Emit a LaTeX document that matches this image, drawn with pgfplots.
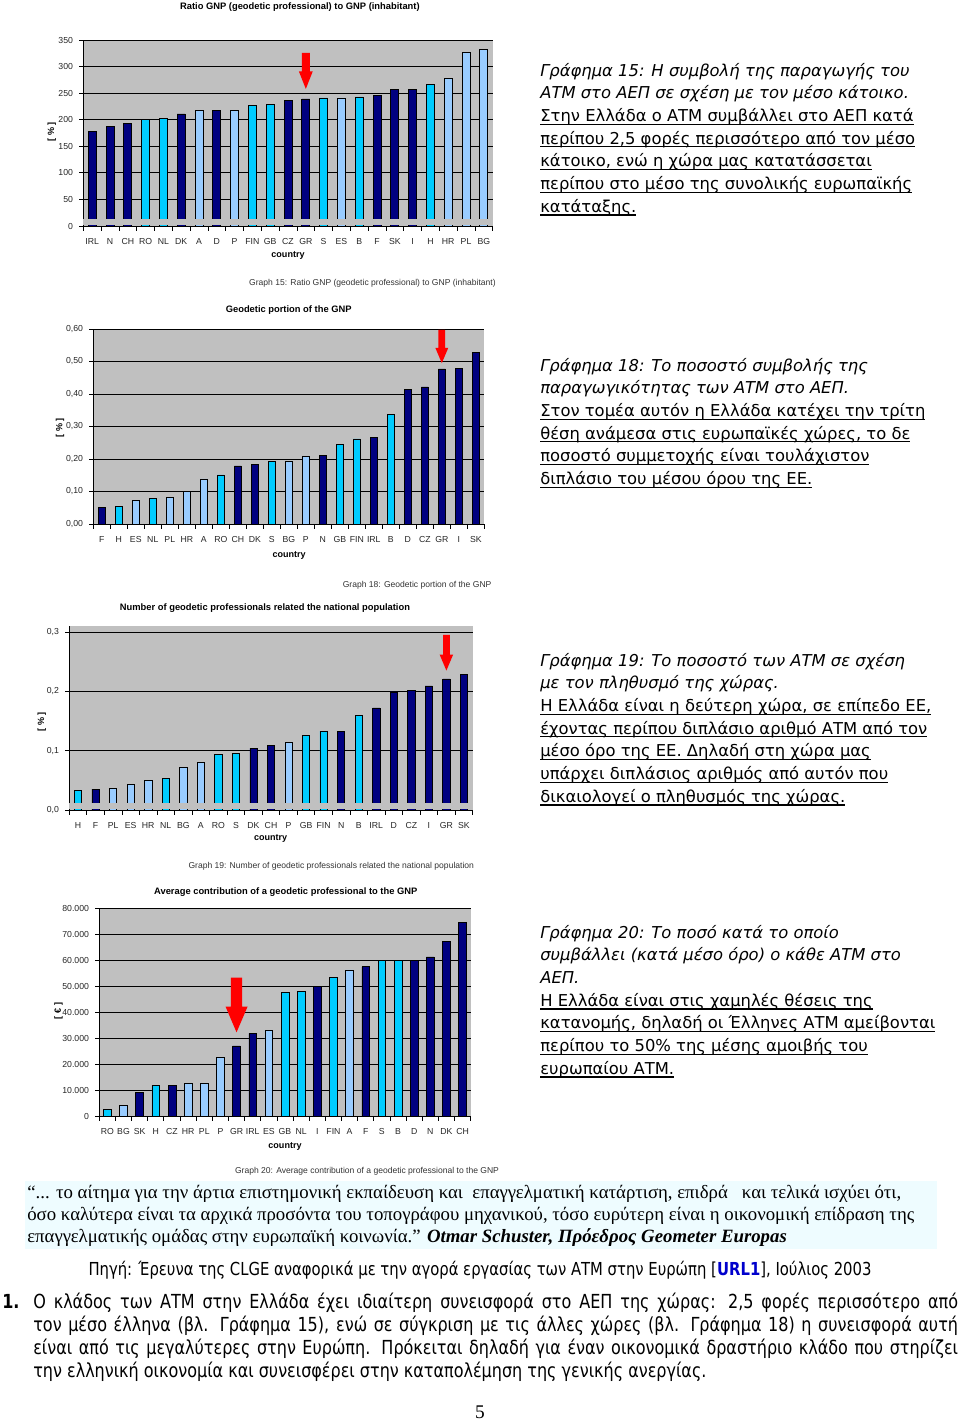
\documentclass[border=0pt]{standalone}
\usepackage{fontspec}
\setmainfont{DejaVu Sans}
\newfontfamily\arialf{Liberation Sans}
\newfontfamily\timesf{Liberation Serif}
\newfontfamily\tahomaf[FakeStretch=0.92]{DejaVu Sans Condensed}
\usepackage{pgfplots}
\pgfplotsset{compat=1.18}
\definecolor{navyb}{HTML}{000080}
\definecolor{cyanb}{HTML}{00CCFF}
\definecolor{lightb}{HTML}{99CCFF}
\definecolor{plotgray}{HTML}{C0C0C0}
\definecolor{arrowred}{HTML}{FF0000}
\definecolor{quotebg}{HTML}{EEFCFF}
\definecolor{urlblue}{HTML}{0000CC}
\newcommand\ul[1]{\setbox0=\hbox{#1}\rlap{\rule[-2.1pt]{\wd0}{0.7pt}}\box0}
\newcommand\redarrow[6]{%
  \fill[arrowred] ([xshift=-#5]axis cs:#1,#2) -- ([xshift=#5]axis cs:#1,#2) -- ([xshift=#5]axis cs:#1,#3) -- ([xshift=#6]axis cs:#1,#3) -- (axis cs:#1,#4) -- ([xshift=-#6]axis cs:#1,#3) -- ([xshift=-#5]axis cs:#1,#3) -- cycle;}
\pgfplotsset{
  gchart/.style={
    scale only axis, anchor=south west,
    xmin=-0.5, xmax=22.5,
    axis background/.style={fill=plotgray},
    axis x line*=bottom, axis y line*=left,
    axis line style={-, black, line width=0.6pt},
    ymajorgrids, grid style={black, line width=0.5pt},
    tick align=outside,
    xtick={0,...,22},
    minor xtick={-0.5,0.5,...,22.5},
    major x tick style={draw=none},
    minor x tick style={black, line width=0.5pt},
    minor tick length=3pt,
    major tick length=2.5pt,
    y tick style={black, line width=0.5pt},
    scaled y ticks=false,
    tick label style={font=\arialf\fontsize{5.4}{6}\selectfont, text=black!85},
    xticklabel style={anchor=center, yshift=-7pt},
    yticklabel style={anchor=east, inner sep=0pt, xshift=-3.7pt},
    title style={font=\arialf\bfseries\fontsize{5.8}{7}\selectfont, anchor=center, yshift=-6.5pt},
    xlabel style={font=\arialf\bfseries\fontsize{5.6}{7}\selectfont, anchor=center},
    ylabel style={font=\arialf\bfseries\fontsize{5.6}{7}\selectfont, anchor=center},
    xlabel=country,
    clip=false,
  },
  dbar/.style={ybar, bar shift=0pt, fill=navyb, draw=black, line width=0.4pt},
  cbar/.style={ybar, bar shift=0pt, fill=cyanb, draw=black, line width=0.4pt},
  lbar/.style={ybar, bar shift=0pt, fill=lightb, draw=black, line width=0.4pt},
}
\tikzset{capt/.style={anchor=east, inner sep=0pt, font=\arialf\fontsize{5.3}{6}\selectfont, text=black!80}}
\begin{document}
\begin{tikzpicture}[x=0.62pt, y=-0.62pt]
\path[use as bounding box] (0,0) rectangle (960,1422);

% ---------------- Chart 15
\begin{axis}[gchart, at={(51.65pt,-140.12pt)}, width=253.83pt, height=115.32pt,
  ymin=0, ymax=350, ytick={0,50,100,150,200,250,300,350},
  yticklabels={0,50,100,150,200,250,300,350},
  xticklabels={IRL,N,CH,RO,NL,DK,A,D,P,FIN,GB,CZ,GR,S,ES,B,F,SK,I,H,HR,PL,BG},
  title={Ratio GNP (geodetic professional) to GNP (inhabitant)},
  title style={at={(axis description cs:0.529,1.183)}},
  xlabel style={at={(axis description cs:0.5,-0.156)}},
  ylabel={[ \% ]}, ylabel style={at={(axis description cs:-0.077,0.507)}}]
\addplot[dbar, bar width=4.96pt] coordinates {(0,178) (1,188) (2,193) (5,211) (7,218) (11,237) (12,239) (16,246) (17,257) (18,257)};
\addplot[cbar, bar width=4.96pt] coordinates {(3,200) (4,202) (9,227) (10,229) (13,241) (15,243) (19,267)};
\addplot[lbar, bar width=4.96pt] coordinates {(6,218) (8,218) (14,241) (20,277) (21,326) (22,332)};
\fill[plotgray] ([yshift=0.4pt]axis cs:-0.5,0) rectangle (axis cs:22.5,12.6);
\redarrow{12}{326}{291}{258}{2.5pt}{4.3pt}
\node[capt] at (axis description cs:1.008,-0.308) {Graph 15: Ratio GNP (geodetic professional) to GNP (inhabitant)};
\end{axis}

% ---------------- Chart 18
\begin{axis}[gchart, at={(57.85pt,-324.88pt)}, width=242.42pt, height=120.9pt,
  ymin=0, ymax=0.6, ytick={0,0.1,0.2,0.3,0.4,0.5,0.6},
  yticklabels={{0,00},{0,10},{0,20},{0,30},{0,40},{0,50},{0,60}},
  xticklabels={F,H,ES,NL,PL,HR,A,RO,CH,DK,S,BG,P,N,GB,FIN,IRL,B,D,CZ,GR,I,SK},
  title={Geodetic portion of the GNP},
  title style={at={(axis description cs:0.4997,1.101)}},
  xlabel style={at={(axis description cs:0.501,-0.159)}},
  ylabel={[ \% ]}, ylabel style={at={(axis description cs:-0.0852,0.494)}}]
\addplot[dbar, bar width=4.4pt] coordinates {(0,0.051) (8,0.179) (9,0.183) (13,0.211) (16,0.267) (18,0.414) (19,0.422) (20,0.477) (21,0.479) (22,0.529)};
\addplot[cbar, bar width=4.4pt] coordinates {(1,0.054) (3,0.079) (7,0.151) (10,0.192) (14,0.245) (15,0.262) (17,0.338)};
\addplot[lbar, bar width=4.4pt] coordinates {(2,0.073) (4,0.081) (5,0.100) (6,0.139) (11,0.192) (12,0.208)};
\redarrow{20}{0.597}{0.542}{0.495}{2.1pt}{4pt}
\node[capt] at (axis description cs:1.019,-0.316) {Graph 18: Geodetic portion of the GNP};
\end{axis}

% ---------------- Chart 19
\begin{axis}[gchart, at={(42.97pt,-502.2pt)}, width=250.1pt, height=114.27pt,
  ymin=0, ymax=0.3106, ytick={0,0.1,0.2,0.3},
  yticklabels={{0,0},{0,1},{0,2},{0,3}},
  xticklabels={H,F,PL,ES,HR,NL,BG,A,RO,S,DK,CH,P,GB,FIN,N,B,IRL,D,CZ,I,GR,SK},
  title={Number of geodetic professionals related the national population},
  title style={at={(axis description cs:0.485,1.100)}},
  xlabel style={at={(axis description cs:0.499,-0.156)}},
  ylabel={[ \% ]}, ylabel style={at={(axis description cs:-0.0684,0.479)}}]
\addplot[dbar, bar width=4.5pt] coordinates {(1,0.035) (10,0.104) (11,0.109) (15,0.133) (17,0.172) (18,0.199) (19,0.201) (20,0.209) (21,0.221) (22,0.229)};
\addplot[cbar, bar width=4.5pt] coordinates {(0,0.033) (5,0.053) (8,0.094) (9,0.096) (13,0.126) (14,0.133) (16,0.160)};
\addplot[lbar, bar width=4.5pt] coordinates {(2,0.037) (3,0.043) (4,0.050) (6,0.072) (7,0.080) (12,0.114)};
\fill[plotgray] ([yshift=0.4pt]axis cs:-0.5,0) rectangle (axis cs:22.5,0.0113);
\redarrow{21}{0.295}{0.262}{0.235}{2.1pt}{4.2pt}
\node[capt] at (axis description cs:1.004,-0.308) {Graph 19: Number of geodetic professionals related the national population};
\end{axis}

% ---------------- Chart 20
\begin{axis}[gchart, at={(61.57pt,-691.92pt)}, width=230.27pt, height=128.96pt,
  ymin=0, ymax=80000, ytick={0,10000,20000,30000,40000,50000,60000,70000,80000},
  yticklabels={0,10.000,20.000,30.000,40.000,50.000,60.000,70.000,80.000},
  xticklabels={RO,BG,SK,H,CZ,HR,PL,P,GR,IRL,ES,GB,NL,I,FIN,A,F,S,B,D,N,DK,CH},
  title={Average contribution of a geodetic professional to the GNP},
  title style={at={(axis description cs:0.502,1.082)}},
  xlabel style={at={(axis description cs:0.5,-0.1476)}},
  ylabel={[ € ]}, ylabel style={at={(axis description cs:-0.110,0.505)}}]
\addplot[dbar, bar width=4.8pt] coordinates {(2,9200) (4,11800) (8,27000) (9,31800) (13,49800) (16,57400) (19,60000) (20,61200) (21,67200) (22,74500)};
\addplot[cbar, bar width=4.8pt] coordinates {(0,2500) (3,11800) (11,47400) (12,48000) (14,53300) (17,59900) (18,59900)};
\addplot[lbar, bar width=4.8pt] coordinates {(1,4000) (5,12600) (6,12600) (7,22600) (10,33000) (15,56200)};
\redarrow{8}{53190}{42040}{32190}{3.5pt}{6.8pt}
\node[capt] at (axis description cs:1.077,-0.268) {Graph 20: Average contribution of a geodetic professional to the GNP};
\end{axis}

% ---------------- Right column texts
\begin{scope}[every node/.style={anchor=base west, inner sep=0pt, font=\fontsize{10.15}{13}\selectfont}]
\node at (540,76.0) {\itshape Γράφημα 15: Η συμβολή της παραγωγής του};
\node at (540,98.7) {\itshape ΑΤΜ στο ΑΕΠ σε σχέση με τον μέσο κάτοικο.};
\node at (540,121.4) {\ul{Στην Ελλάδα ο ΑΤΜ συμβάλλει στο ΑΕΠ κατά}};
\node at (540,144.1) {\ul{περίπου 2,5 φορές περισσότερο από τον μέσο}};
\node at (540,166.8) {\ul{κάτοικο, ενώ η χώρα μας κατατάσσεται}};
\node at (540,189.5) {\ul{περίπου στο μέσο της συνολικής ευρωπαϊκής}};
\node at (540,212.2) {\ul{κατάταξης.}};

\node at (540,371.0) {\itshape Γράφημα 18: Το ποσοστό συμβολής της};
\node at (540,393.7) {\itshape παραγωγικότητας των ΑΤΜ στο ΑΕΠ.};
\node at (540,416.4) {\ul{Στον τομέα αυτόν η Ελλάδα κατέχει την τρίτη}};
\node at (540,439.1) {\ul{θέση ανάμεσα στις ευρωπαϊκές χώρες, το δε}};
\node at (540,461.8) {\ul{ποσοστό συμμετοχής είναι τουλάχιστον}};
\node at (540,484.5) {\ul{διπλάσιο του μέσου όρου της ΕΕ.}};

\node at (540,666.0) {\itshape Γράφημα 19: Το ποσοστό των ΑΤΜ σε σχέση};
\node at (540,688.7) {\itshape με τον πληθυσμό της χώρας.};
\node at (540,711.4) {\ul{Η Ελλάδα είναι η δεύτερη χώρα, σε επίπεδο ΕΕ,}};
\node at (540,734.1) {\ul{έχοντας περίπου διπλάσιο αριθμό ΑΤΜ από τον}};
\node at (540,756.8) {\ul{μέσο όρο της ΕΕ. Δηλαδή στη χώρα μας}};
\node at (540,779.5) {\ul{υπάρχει διπλάσιος αριθμός από αυτόν που}};
\node at (540,802.2) {\ul{δικαιολογεί ο πληθυσμός της χώρας.}};

\node at (540,938.0) {\itshape Γράφημα 20: Το ποσό κατά το οποίο};
\node at (540,960.7) {\itshape συμβάλλει (κατά μέσο όρο) ο κάθε ΑΤΜ στο};
\node at (540,983.4) {\itshape ΑΕΠ.};
\node at (540,1006.1) {\ul{Η Ελλάδα είναι στις χαμηλές θέσεις της}};
\node at (540,1028.8) {\ul{κατανομής, δηλαδή οι Έλληνες ΑΤΜ αμείβονται}};
\node at (540,1051.5) {\ul{περίπου το 50\% της μέσης αμοιβής του}};
\node at (540,1074.2) {\ul{ευρωπαίου ΑΤΜ.}};
\end{scope}

% ---------------- Quote box
\fill[quotebg] (25,1181) rectangle (937,1249);
\begin{scope}[every node/.style={anchor=base west, inner sep=0pt, font=\timesf\fontsize{11.65}{14}\selectfont}]
\node at (27,1198) {“... το αίτημα για την άρτια επιστημονική εκπαίδευση και\ \ επαγγελματική κατάρτιση, επιδρά\ \ \ και τελικά ισχύει ότι,};
\node at (27,1220) {όσο καλύτερα είναι τα αρχικά προσόντα του τοπογράφου μηχανικού, τόσο ευρύτερη είναι η οικονομική επίδραση της};
\node at (27,1242) {επαγγελματικής ομάδας στην ευρωπαϊκή κοινωνία.” \textbf{\itshape Otmar Schuster, Πρόεδρος Geometer Europas}};
\end{scope}

% ---------------- Source line
\node[anchor=base, inner sep=0pt, font=\tahomaf\fontsize{11.1}{13}\selectfont] at (480,1275) {Πηγή: Έρευνα της CLGE αναφορικά με την αγορά εργασίας των ΑΤΜ στην Ευρώπη [\textcolor{urlblue}{\bfseries URL1}], Ιούλιος 2003};

% ---------------- Paragraph
\begin{scope}[every node/.style={anchor=base west, inner sep=0pt, font=\tahomaf\fontsize{12}{14}\selectfont}]
\node at (2,1308) {\bfseries 1.};
\node at (33,1308) {\makebox[573.5pt][s]{Ο κλάδος των ΑΤΜ στην Ελλάδα έχει ιδιαίτερη συνεισφορά στο ΑΕΠ της χώρας: 2,5 φορές περισσότερο από}};
\node at (33,1331) {\makebox[573.5pt][s]{τον μέσο έλληνα (βλ. Γράφημα 15), ενώ σε σύγκριση με τις άλλες χώρες (βλ. Γράφημα 18) η συνεισφορά αυτή}};
\node at (33,1354) {\makebox[573.5pt][s]{είναι από τις μεγαλύτερες στην Ευρώπη. Πρόκειται δηλαδή για έναν οικονομικά δραστήριο κλάδο που στηρίζει}};
\node at (33,1377) {την ελληνική οικονομία και συνεισφέρει στην καταπολέμηση της γενικής ανεργίας.};
\end{scope}

\node[anchor=base, inner sep=0pt, font=\timesf\fontsize{12}{14}\selectfont] at (480,1418) {5};
\end{tikzpicture}
\end{document}
